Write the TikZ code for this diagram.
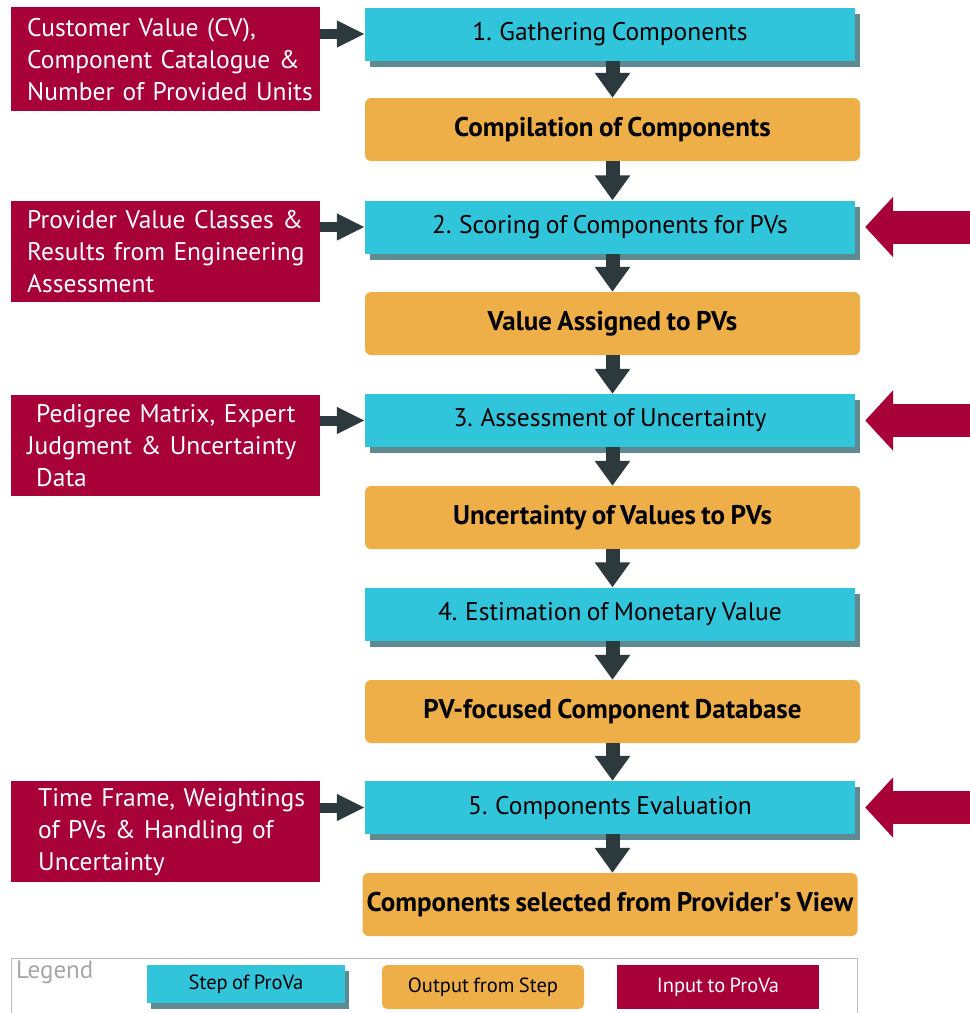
\documentclass[tikz,border=0pt]{standalone}
\usepackage{fontspec}
\setmainfont{PT Sans}[WordSpace=0.8]
\usetikzlibrary{arrows.meta,shadows}
\definecolor{redc}{HTML}{A80038}
\definecolor{bluec}{HTML}{31C5DB}
\definecolor{orangec}{HTML}{EFAF48}
\definecolor{darkc}{HTML}{2C3A3E}
\definecolor{shadc}{HTML}{5F8A91}
\definecolor{legc}{HTML}{BBBBBB}
\begin{document}
\begin{tikzpicture}[x=1pt,y=-1pt,
  stepbox/.style={fill=bluec, minimum width=490pt, minimum height=53pt, inner sep=0pt,
    font=\fontsize{25.5}{28}\selectfont, general shadow={fill=shadc, shadow xshift=5pt, shadow yshift=-6pt}},
  outbox/.style={fill=orangec, rounded corners=6pt, minimum width=495pt, minimum height=63pt, inner sep=0pt,
    font=\fontsize{27}{30}\selectfont\bfseries},
  inbox/.style={fill=redc, text=white, anchor=north west, minimum width=309pt, minimum height=104pt,
    text width=277pt, inner xsep=16pt, align=left, font=\fontsize{25.5}{32}\selectfont},
  dnarrow/.style={draw=darkc, line width=14pt, -{Triangle[width=34pt,length=25pt]}},
  inarrow/.style={draw=darkc, line width=10pt, -{Triangle[width=25pt,length=28pt]}},
  bigarrow/.style={draw=redc, line width=33pt, -{Triangle[width=59pt,length=28pt]}},
  legstep/.style={fill=bluec, minimum width=198pt, minimum height=38pt, inner sep=0pt,
    font=\fontsize{20.5}{24}\selectfont, general shadow={fill=shadc, shadow xshift=4pt, shadow yshift=-6pt}},
  legout/.style={fill=orangec, rounded corners=5pt, minimum width=202pt, minimum height=44pt, inner sep=0pt,
    font=\fontsize{20.5}{24}\selectfont},
  legin/.style={fill=redc, text=white, minimum width=202pt, minimum height=44pt, inner sep=0pt,
    font=\fontsize{20.5}{24}\selectfont}
]
\useasboundingbox (0,0) rectangle (970,1013);

% steps
\node[stepbox] (s1) at (610,34) {1. Gathering Components};
\node[outbox] (o1) at (612.5,129.5) {Compilation of Components};
\node[stepbox] (s2) at (610,227) {2. Scoring of Components for PVs};
\node[outbox] (o2) at (612.5,323.5) {Value Assigned to PVs};
\node[stepbox] (s3) at (610,420.5) {3. Assessment of Uncertainty};
\node[outbox] (o3) at (612.5,517.5) {Uncertainty of Values to PVs};
\node[stepbox] (s4) at (610,614) {4. Estimation of Monetary Value};
\node[outbox] (o4) at (612.5,711.5) {PV-focused Component Database};
\node[stepbox] (s5) at (610,807.5) {5. Components Evaluation};
\node[outbox] (o5) at (610,904.5) {Components selected from Provider\textquotesingle s View};

% down arrows
\draw[dnarrow] (o1.north |- s1.south) -- (o1.north);
\draw[dnarrow] (o1.south) -- (o1.south |- s2.north);
\draw[dnarrow] (o2.north |- s2.south) -- (o2.north);
\draw[dnarrow] (o2.south) -- (o2.south |- s3.north);
\draw[dnarrow] (o3.north |- s3.south) -- (o3.north);
\draw[dnarrow] (o3.south) -- (o3.south |- s4.north);
\draw[dnarrow] (o4.north |- s4.south) -- (o4.north);
\draw[dnarrow] (o4.south) -- (o4.south |- s5.north);
\draw[dnarrow] (s5.south -| o4.south) -- (o4.south |- o5.north);

% inputs
\node[inbox] (r1) at (11,7) {\mbox{Customer Value (CV),}\\\mbox{Component Catalogue \&}\\\mbox{Number of Provided Units}};
\node[inbox, minimum height=101pt] (r2) at (11,201) {\mbox{Provider Value Classes \&}\\\mbox{Results from Engineering}\\\mbox{Assessment}};
\node[inbox, minimum height=101pt] (r3) at (11,395) {\mbox{\hspace*{9pt}Pedigree Matrix, Expert}\\\mbox{Judgment \& Uncertainty}\\\mbox{\hspace*{9pt}Data}};
\node[inbox, minimum height=101pt] (r4) at (11,781) {\mbox{\hspace*{11pt}Time Frame, Weightings}\\\mbox{\hspace*{11pt}of PVs \& Handling of}\\\mbox{\hspace*{11pt}Uncertainty}};

\draw[inarrow] (r1.east |- s1.west) -- (s1.west);
\draw[inarrow] (r2.east |- s2.west) -- (s2.west);
\draw[inarrow] (r3.east |- s3.west) -- (s3.west);
\draw[inarrow] (r4.east |- s5.west) -- (s5.west);

% big red arrows
\coordinate (e2) at (972,227);
\coordinate (e3) at (972,420.5);
\coordinate (e5) at (972,807.5);
\draw[bigarrow] (e2) -- ([xshift=10pt]s2.east);
\draw[bigarrow] (e3) -- ([xshift=10pt]s3.east);
\draw[bigarrow] (e5) -- ([xshift=10pt]s5.east);

% legend
\draw[legc, line width=1pt] (11,1020) -- (11,958) -- (857,958) -- (857,1020);
\node[anchor=west, text=gray!70, font=\fontsize{25}{28}\selectfont, inner sep=0pt] (lg) at (16,972) {Legend};
\node[legstep] (l1) at (246,984) {Step of ProVa};
\node[legout] (l2) at (483,987) {Output from Step};
\node[legin] (l3) at (718,987) {Input to ProVa};
\end{tikzpicture}
\end{document}
